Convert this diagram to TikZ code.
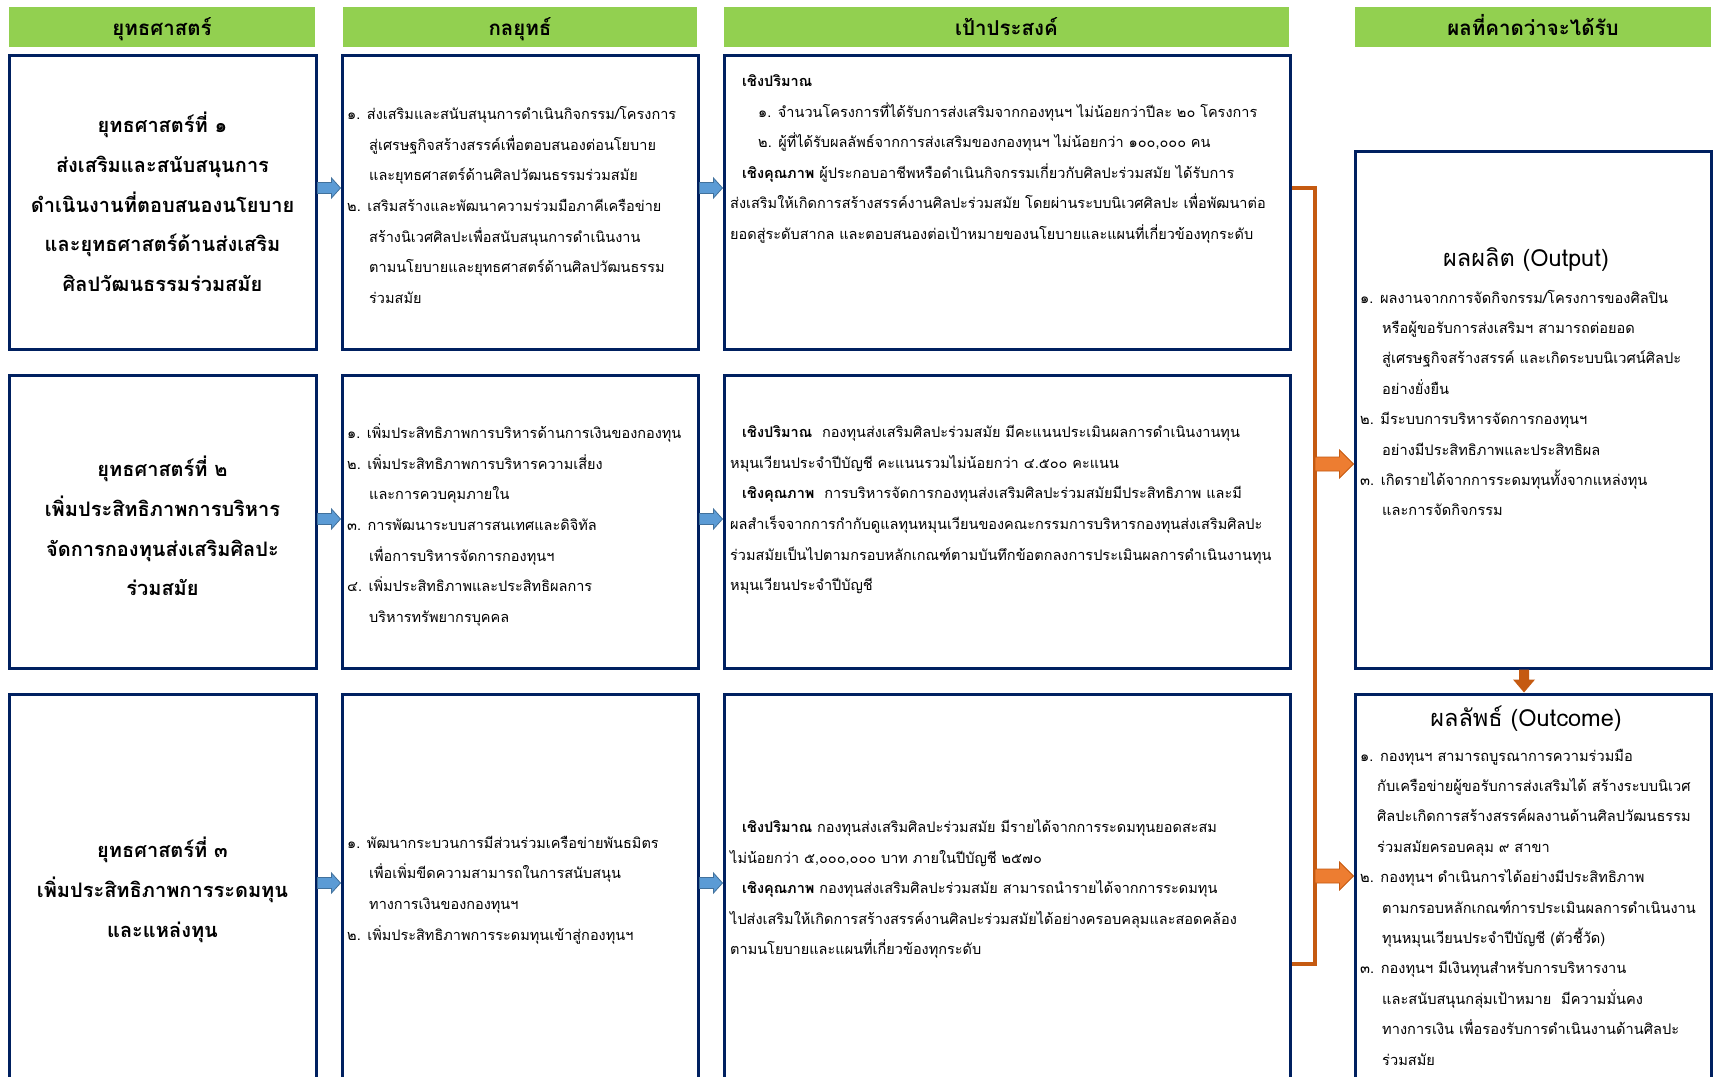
\documentclass[tikz,border=0pt]{standalone}
\usepackage{fontspec}
\newfontfamily\thai[Script=Thai]{Loma}
\usetikzlibrary{calc}
\definecolor{HeadGreen}{RGB}{146,208,80}
\definecolor{BoxNavy}{RGB}{0,32,96}
\definecolor{ArrBlue}{RGB}{91,155,213}
\definecolor{ArrBlueEdge}{RGB}{65,113,156}
\definecolor{ArrOrange}{RGB}{237,125,49}
\definecolor{LineOrange}{RGB}{197,90,17}

% block arrow pointing right: style, start, end, half shaft, half head, head length
\newcommand{\rightblock}[6]{%
  \path[#1] let \p1=(#2), \p2=(#3) in
    (\x1,\y1+#4) -- (\x2-#6,\y1+#4) -- (\x2-#6,\y1+#5) -- (\x2,\y1)
    -- (\x2-#6,\y1-#5) -- (\x2-#6,\y1-#4) -- (\x1,\y1-#4) -- cycle;}
% block arrow pointing down
\newcommand{\downblock}[6]{%
  \path[#1] let \p1=(#2), \p2=(#3) in
    (\x1+#4,\y1) -- (\x1+#4,\y2+#6) -- (\x1+#5,\y2+#6) -- (\x1,\y2)
    -- (\x1-#5,\y2+#6) -- (\x1-#4,\y2+#6) -- (\x1-#4,\y1) -- cycle;}
% header text sits a little low in its bar
\newcommand{\headtxt}[1]{\raisebox{-9pt}[0pt][0pt]{#1}}

\tikzset{
  head/.style={fill=HeadGreen, minimum height=40pt, inner sep=0pt,
    font=\thai\bfseries\fontsize{20.5}{22}\selectfont},
  box/.style={draw=BoxNavy, line width=3pt, fill=white, inner sep=0pt},
  stratext/.style={align=center, inner sep=0pt,
    font=\thai\bfseries\fontsize{20}{39.7}\selectfont},
  tacticstext/.style={align=left, anchor=west, inner sep=0pt,
    font=\thai\fontsize{14.5}{30.6}\selectfont},
  goaltext/.style={align=left, anchor=west, inner sep=0pt,
    font=\thai\fontsize{14.5}{30.6}\selectfont},
  resulttext/.style={align=left, anchor=west, inner sep=0pt,
    font=\thai\fontsize{14.6}{30.4}\selectfont},
  resulttitle/.style={inner sep=0pt, font=\thai\fontsize{23.5}{25}\selectfont},
  bluearr/.style={fill=ArrBlue, draw=ArrBlueEdge, line width=0.8pt},
  orangearr/.style={fill=ArrOrange, draw=LineOrange, line width=0.8pt},
  bracket/.style={draw=LineOrange, line width=4pt},
}

\begin{document}
\begin{tikzpicture}[x=1pt, y=-1pt]

  \clip (0,0) rectangle (1713,1076);
  \fill[white] (0,0) rectangle (1713,1076);

  % Column headers.
  \node[head, minimum width=306pt] (h1) at (162,27) {\headtxt{ยุทธศาสตร์}};
  \node[head, minimum width=354pt] (h2) at (520,27) {\headtxt{กลยุทธ์}};
  \node[head, minimum width=565pt] (h3) at (1006.5,27) {\headtxt{เป้าประสงค์}};
  \node[head, minimum width=356pt] (h4) at (1533,27) {\headtxt{ผลที่คาดว่าจะได้รับ}};

  % Boxes: strategies (s), tactics (t), goals (g).
  \node[box, minimum width=307pt, minimum height=294pt] (s1) at (162.5,202) {};
  \node[box, minimum width=307pt, minimum height=293pt] (s2) at (162.5,521.5) {};
  \node[box, minimum width=307pt, minimum height=400pt] (s3) at (162.5,894) {};
  \node[box, minimum width=356pt, minimum height=294pt] (t1) at (520,202) {};
  \node[box, minimum width=356pt, minimum height=293pt] (t2) at (520,521.5) {};
  \node[box, minimum width=356pt, minimum height=400pt] (t3) at (520,894) {};
  \node[box, minimum width=566pt, minimum height=294pt] (g1) at (1007,202) {};
  \node[box, minimum width=566pt, minimum height=293pt] (g2) at (1007,521.5) {};
  \node[box, minimum width=566pt, minimum height=400pt] (g3) at (1007,894) {};

  % Expected results.
  \node[box, minimum width=356pt, minimum height=517pt] (out) at (1533,409.5) {};
  \node[box, minimum width=356pt, minimum height=400pt] (outc) at (1533,894) {};

  % Strategy texts.
  \node[stratext] (s1txt) at (s1.center) {ยุทธศาสตร์ที่ ๑\\ส่งเสริมและสนับสนุนการ\\ดำเนินงานที่ตอบสนองนโยบาย\\และยุทธศาสตร์ด้านส่งเสริม\\ศิลปวัฒนธรรมร่วมสมัย};
  \node[stratext] (s2txt) at (162.5,526) {ยุทธศาสตร์ที่ ๒\\เพิ่มประสิทธิภาพการบริหาร\\จัดการกองทุนส่งเสริมศิลปะ\\ร่วมสมัย};
  \node[stratext] (s3txt) at (162.5,890) {ยุทธศาสตร์ที่ ๓\\เพิ่มประสิทธิภาพการระดมทุน\\และแหล่งทุน};

  % Tactics texts.
  \node[tacticstext] (t1txt) at (347,205) {๑. ส่งเสริมและสนับสนุนการดำเนินกิจกรรม/โครงการ\\
    \hspace*{22pt}สู่เศรษฐกิจสร้างสรรค์เพื่อตอบสนองต่อนโยบาย\\
    \hspace*{22pt}และยุทธศาสตร์ด้านศิลปวัฒนธรรมร่วมสมัย\\
    ๒. เสริมสร้างและพัฒนาความร่วมมือภาคีเครือข่าย\\
    \hspace*{22pt}สร้างนิเวศศิลปะเพื่อสนับสนุนการดำเนินงาน\\
    \hspace*{22pt}ตามนโยบายและยุทธศาสตร์ด้านศิลปวัฒนธรรม\\
    \hspace*{22pt}ร่วมสมัย};
  \node[tacticstext] (t2txt) at (347,525) {๑. เพิ่มประสิทธิภาพการบริหารด้านการเงินของกองทุน\\
    ๒. เพิ่มประสิทธิภาพการบริหารความเสี่ยง\\
    \hspace*{22pt}และการควบคุมภายใน\\
    ๓. การพัฒนาระบบสารสนเทศและดิจิทัล\\
    \hspace*{22pt}เพื่อการบริหารจัดการกองทุนฯ\\
    ๔. เพิ่มประสิทธิภาพและประสิทธิผลการ\\
    \hspace*{22pt}บริหารทรัพยากรบุคคล};
  \node[tacticstext] (t3txt) at (347,890) {๑. พัฒนากระบวนการมีส่วนร่วมเครือข่ายพันธมิตร\\
    \hspace*{22pt}เพื่อเพิ่มขีดความสามารถในการสนับสนุน\\
    \hspace*{22pt}ทางการเงินของกองทุนฯ\\
    ๒. เพิ่มประสิทธิภาพการระดมทุนเข้าสู่กองทุนฯ};

  % Goal texts.
  \node[goaltext] (g1txt) at (730,159) {\hspace*{12pt}\textbf{เชิงปริมาณ}\\
    \hspace*{28pt}๑. จำนวนโครงการที่ได้รับการส่งเสริมจากกองทุนฯ ไม่น้อยกว่าปีละ ๒๐ โครงการ\\
    \hspace*{28pt}๒. ผู้ที่ได้รับผลลัพธ์จากการส่งเสริมของกองทุนฯ ไม่น้อยกว่า ๑๐๐,๐๐๐ คน\\
    \hspace*{12pt}\textbf{เชิงคุณภาพ} ผู้ประกอบอาชีพหรือดำเนินกิจกรรมเกี่ยวกับศิลปะร่วมสมัย ได้รับการ\\
    ส่งเสริมให้เกิดการสร้างสรรค์งานศิลปะร่วมสมัย โดยผ่านระบบนิเวศศิลปะ เพื่อพัฒนาต่อ\\
    ยอดสู่ระดับสากล และตอบสนองต่อเป้าหมายของนโยบายและแผนที่เกี่ยวข้องทุกระดับ};
  \node[goaltext] (g2txt) at (730,510) {\hspace*{12pt}\textbf{เชิงปริมาณ}\ \ กองทุนส่งเสริมศิลปะร่วมสมัย มีคะแนนประเมินผลการดำเนินงานทุน\\
    หมุนเวียนประจำปีบัญชี คะแนนรวมไม่น้อยกว่า ๔.๕๐๐ คะแนน\\
    \hspace*{12pt}\textbf{เชิงคุณภาพ}\ \ การบริหารจัดการกองทุนส่งเสริมศิลปะร่วมสมัยมีประสิทธิภาพ และมี\\
    ผลสำเร็จจากการกำกับดูแลทุนหมุนเวียนของคณะกรรมการบริหารกองทุนส่งเสริมศิลปะ\\
    ร่วมสมัยเป็นไปตามกรอบหลักเกณฑ์ตามบันทึกข้อตกลงการประเมินผลการดำเนินงานทุน\\
    หมุนเวียนประจำปีบัญชี};
  \node[goaltext] (g3txt) at (730,889) {\hspace*{12pt}\textbf{เชิงปริมาณ} กองทุนส่งเสริมศิลปะร่วมสมัย มีรายได้จากการระดมทุนยอดสะสม\\
    ไม่น้อยกว่า ๕,๐๐๐,๐๐๐ บาท ภายในปีบัญชี ๒๕๗๐\\
    \hspace*{12pt}\textbf{เชิงคุณภาพ} กองทุนส่งเสริมศิลปะร่วมสมัย สามารถนำรายได้จากการระดมทุน\\
    ไปส่งเสริมให้เกิดการสร้างสรรค์งานศิลปะร่วมสมัยได้อย่างครอบคลุมและสอดคล้อง\\
    ตามนโยบายและแผนที่เกี่ยวข้องทุกระดับ};

  % Output and outcome texts.
  \node[resulttitle] (outtitle) at (1526,260) {ผลผลิต (Output)};
  \node[resulttext] (outtxt) at (1360,403) {๑. ผลงานจากการจัดกิจกรรม/โครงการของศิลปิน\\
    \hspace*{22pt}หรือผู้ขอรับการส่งเสริมฯ สามารถต่อยอด\\
    \hspace*{22pt}สู่เศรษฐกิจสร้างสรรค์ และเกิดระบบนิเวศน์ศิลปะ\\
    \hspace*{22pt}อย่างยั่งยืน\\
    ๒. มีระบบการบริหารจัดการกองทุนฯ\\
    \hspace*{22pt}อย่างมีประสิทธิภาพและประสิทธิผล\\
    ๓. เกิดรายได้จากการระดมทุนทั้งจากแหล่งทุน\\
    \hspace*{22pt}และการจัดกิจกรรม};
  \node[resulttitle] (outctitle) at (1526,719) {ผลลัพธ์ (Outcome)};
  \node[resulttext] (outctxt) at (1360,907) {๑. กองทุนฯ สามารถบูรณาการความร่วมมือ\\
    \hspace*{17pt}กับเครือข่ายผู้ขอรับการส่งเสริมได้ สร้างระบบนิเวศ\\
    \hspace*{17pt}ศิลปะเกิดการสร้างสรรค์ผลงานด้านศิลปวัฒนธรรม\\
    \hspace*{17pt}ร่วมสมัยครอบคลุม ๙ สาขา\\
    ๒. กองทุนฯ ดำเนินการได้อย่างมีประสิทธิภาพ\\
    \hspace*{22pt}ตามกรอบหลักเกณฑ์การประเมินผลการดำเนินงาน\\
    \hspace*{22pt}ทุนหมุนเวียนประจำปีบัญชี (ตัวชี้วัด)\\
    ๓. กองทุนฯ มีเงินทุนสำหรับการบริหารงาน\\
    \hspace*{22pt}และสนับสนุนกลุ่มเป้าหมาย\ \ มีความมั่นคง\\
    \hspace*{22pt}ทางการเงิน เพื่อรองรับการดำเนินงานด้านศิลปะ\\
    \hspace*{22pt}ร่วมสมัย};

  % Blue arrows between columns.
  \coordinate (r1y) at (0,188);
  \coordinate (r2y) at (0,519);
  \coordinate (r3y) at (0,883);
  \foreach \r in {1,2,3} {
    \rightblock{bluearr}{s\r.east |- r\r y}{t\r.west |- r\r y}{5.5pt}{10pt}{9pt}
    \rightblock{bluearr}{t\r.east |- r\r y}{g\r.west |- r\r y}{5.5pt}{10pt}{9pt}
  }

  % Orange bracket collecting the goals.
  \coordinate (brktop) at (1315,188);
  \coordinate (brkbot) at (1315,964);
  \draw[bracket] (g1.east |- brktop) -- (brktop) -- (brkbot) -- (g3.east |- brkbot);
  \coordinate (o1y) at (0,464);
  \coordinate (o2y) at (0,876);
  \rightblock{orangearr}{brktop |- o1y}{out.west |- o1y}{7pt}{14pt}{14pt}
  \rightblock{orangearr}{brktop |- o2y}{outc.west |- o2y}{7pt}{14pt}{14pt}

  % Output leads to outcome.
  \coordinate (dx) at (1524,0);
  \downblock{fill=LineOrange}{out.south -| dx}{outc.north -| dx}{5pt}{11pt}{13pt}

\end{tikzpicture}
\end{document}
